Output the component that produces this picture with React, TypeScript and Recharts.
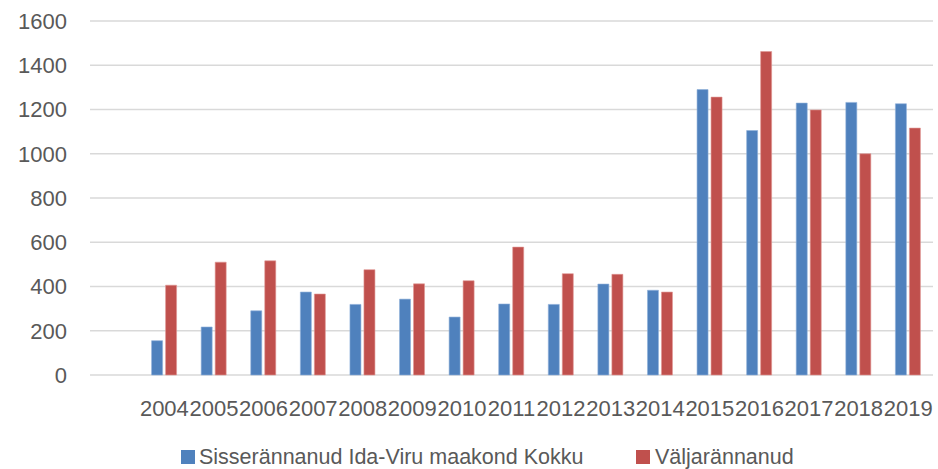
import React from "react";
import { BarChart, Bar, XAxis, YAxis, CartesianGrid, Legend } from "recharts";

const years = ["", "2004", "2005", "2006", "2007", "2008", "2009", "2010", "2011", "2012", "2013", "2014", "2015", "2016", "2017", "2018", "2019"];
const sisse = [null, 155, 217, 290, 375, 319, 343, 262, 321, 319, 411, 383, 1290, 1105, 1229, 1232, 1226];
const valja = [null, 406, 510, 516, 366, 476, 412, 426, 578, 458, 455, 375, 1256, 1462, 1198, 1000, 1116];
const yTicks = [0, 200, 400, 600, 800, 1000, 1200, 1400, 1600];
const seriesNames = ["Sisserännanud Ida-Viru maakond Kokku", "Väljarännanud"];
const colors = ["#4F81BD", "#C0504D"];

const data = years.map((y, i) => ({ year: y, sisse: sisse[i], valja: valja[i] }));

const FONT = "'Liberation Sans', Arial, sans-serif";

const LegendContent = () => (
  <div style={{ position: "relative", width: 938, height: 44, fontFamily: FONT, fontSize: 21.5, color: "#595959" }}>
    {seriesNames.map((n, i) => (
      <div key={n} style={{ position: "absolute", left: i === 0 ? 181 : 636, top: 21, height: 22, display: "flex", alignItems: "center", whiteSpace: "nowrap" }}>
        <span style={{ display: "inline-block", width: 14, height: 14, background: colors[i], marginRight: i === 0 ? 4 : 5 }} />
        <span style={{ lineHeight: "22px" }}>{n}</span>
      </div>
    ))}
  </div>
);

export default function App() {
  return (
    <div style={{ position: "absolute", left: 0, top: 0, width: 938, height: 469, background: "#fff" }}>
      <BarChart width={938} height={469} data={data} margin={{ top: 21, right: 5, bottom: 0, left: 0 }} barSize={11} barGap={3}>
        <CartesianGrid vertical={false} stroke="#D9D9D9" strokeWidth={1.5} />
        <XAxis
          dataKey="year"
          height={50}
          axisLine={false}
          tickLine={false}
          tickSize={0}
          tickMargin={25}
          interval={0}
          tick={{ fill: "#595959", fontSize: 22, fontFamily: FONT }}
        />
        <YAxis
          width={90}
          domain={[0, 1600]}
          ticks={yTicks}
          axisLine={false}
          tickLine={false}
          tickSize={0}
          tickMargin={23}
          tick={{ fill: "#595959", fontSize: 22, fontFamily: FONT }}
        />
        <Legend verticalAlign="bottom" height={44} content={<LegendContent />} wrapperStyle={{ left: 0, width: 938 }} />
        <Bar dataKey="sisse" name={seriesNames[0]} fill={colors[0]} stroke="#8FB0DA" strokeWidth={0.6} isAnimationActive={false} />
        <Bar dataKey="valja" name={seriesNames[1]} fill={colors[1]} stroke="#E09794" strokeWidth={0.6} isAnimationActive={false} />
      </BarChart>
    </div>
  );
}
